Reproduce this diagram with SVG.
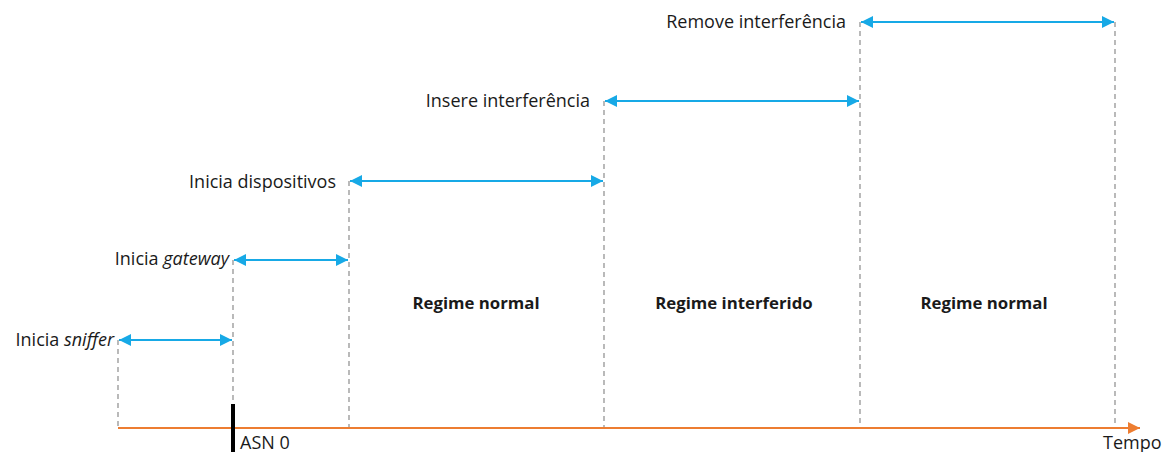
<svg xmlns="http://www.w3.org/2000/svg" width="1162" height="452" viewBox="0 0 1162 452">
<defs>
<style>
.lbl{font-family:"Open Sans","Noto Sans",sans-serif;font-size:18px;fill:#1a1a1a}
.b{font-weight:bold;text-anchor:middle;font-size:16.8px}
.guide{stroke:#8c8c8c;stroke-width:1.2;stroke-dasharray:5,4;fill:none}
.span{stroke:#17A9E6;stroke-width:2;fill:none;marker-start:url(#ah);marker-end:url(#ah)}
</style>
<marker id="ah" viewBox="0 0 10 10" refX="10" refY="5" markerWidth="6" markerHeight="6" orient="auto-start-reverse" markerUnits="strokeWidth">
<path d="M0,0 L10,5 L0,10 z" fill="#17A9E6"/>
</marker>
<marker id="oh" viewBox="0 0 10 10" refX="10" refY="5" markerWidth="6" markerHeight="6" orient="auto" markerUnits="strokeWidth">
<path d="M0,0 L10,5 L0,10 z" fill="#ED7D31"/>
</marker>
</defs>
<rect width="1162" height="452" fill="#ffffff"/>
<g id="guides">
<line class="guide" x1="118" y1="340" x2="118" y2="428"/>
<line class="guide" x1="233" y1="260" x2="233" y2="428"/>
<line class="guide" x1="349" y1="181" x2="349" y2="428"/>
<line class="guide" x1="604" y1="101" x2="604" y2="428"/>
<line class="guide" x1="860" y1="22" x2="860" y2="428"/>
<line class="guide" x1="1115" y1="22" x2="1115" y2="428"/>
</g>
<g id="timeline">
<line x1="118" y1="428" x2="1140" y2="428" stroke="#ED7D31" stroke-width="2" marker-end="url(#oh)"/>
<text class="lbl" x="1103" y="449">Tempo</text>
</g>
<g id="asn0">
<rect x="231" y="404" width="4" height="48" fill="#000"/>
<text class="lbl" x="240" y="449">ASN 0</text>
</g>
<g id="connectors">
<line class="span" x1="119" y1="340" x2="232" y2="340"/>
<line class="span" x1="234" y1="260" x2="348" y2="260"/>
<line class="span" x1="350" y1="181" x2="603" y2="181"/>
<line class="span" x1="605" y1="101" x2="859" y2="101"/>
<line class="span" x1="861" y1="22" x2="1114" y2="22"/>
</g>
<g id="n-sniffer"><text class="lbl" x="114" y="346" text-anchor="end">Inicia <tspan font-style="italic">sniffer</tspan></text></g>
<g id="n-gateway"><text class="lbl" x="229" y="265" text-anchor="end">Inicia <tspan font-style="italic">gateway</tspan></text></g>
<g id="n-dispositivos"><text class="lbl" x="336" y="188" text-anchor="end">Inicia dispositivos</text></g>
<g id="n-insere"><text class="lbl" x="590" y="107" text-anchor="end">Insere interferência</text></g>
<g id="n-remove"><text class="lbl" x="846" y="28" text-anchor="end">Remove interferência</text></g>
<g id="r1"><text class="lbl b" x="476" y="309">Regime normal</text></g>
<g id="r2"><text class="lbl b" x="734" y="309">Regime interferido</text></g>
<g id="r3"><text class="lbl b" x="984" y="309">Regime normal</text></g>
</svg>
